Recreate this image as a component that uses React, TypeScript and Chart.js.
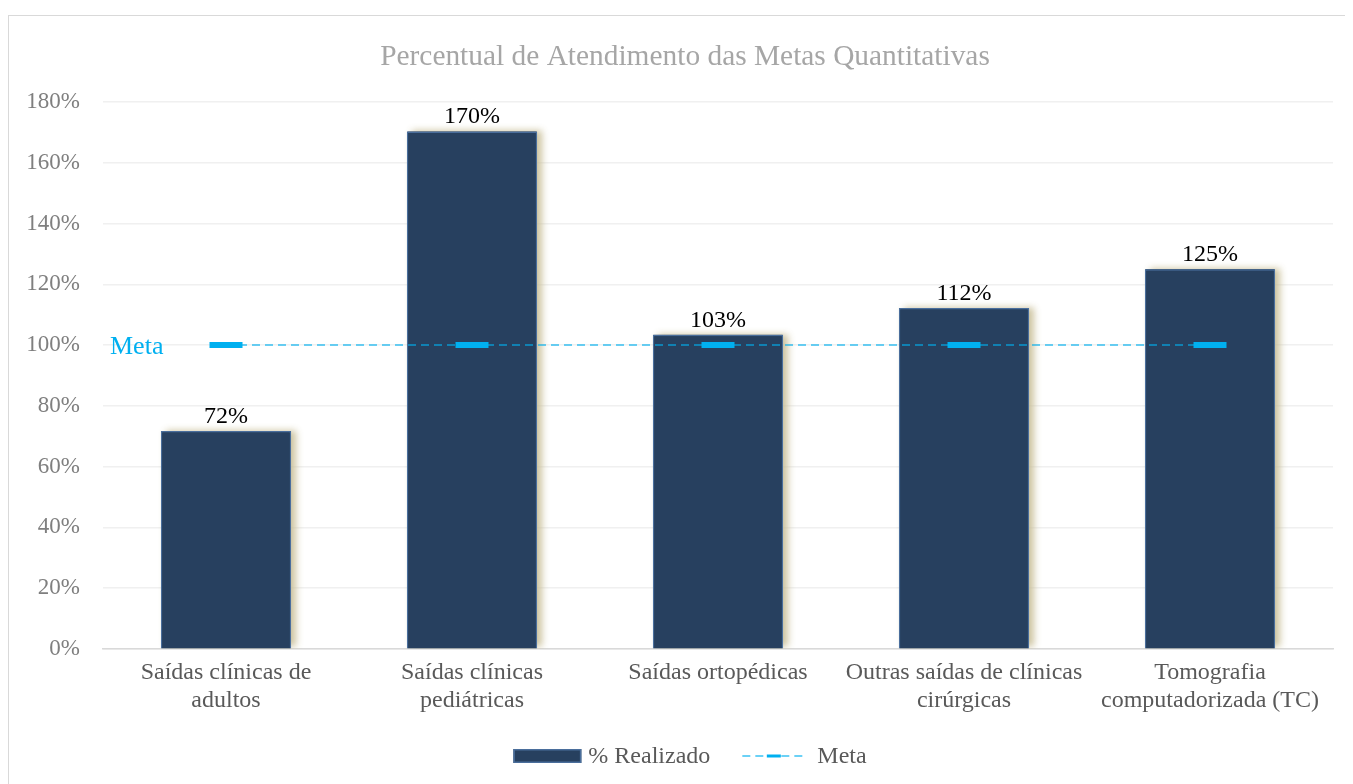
import React, { useEffect, useRef } from "react";
import { Chart, registerables } from "chart.js";

Chart.register(...registerables);

const chartTitle = "Percentual de Atendimento das Metas Quantitativas";
const categories: string[][] = [
  ["Saídas clínicas de", "adultos"],
  ["Saídas clínicas", "pediátricas"],
  ["Saídas ortopédicas"],
  ["Outras saídas de clínicas", "cirúrgicas"],
  ["Tomografia", "computadorizada (TC)"],
];
const realizado = [71.7, 170.3, 103.4, 112.2, 125.0];
const meta = [100, 100, 100, 100, 100];
const seriesNames = ["% Realizado", "Meta"];
const metaLabel = "Meta";
const yMin = 0;
const yMax = 180;
const yStep = 20;

const FONT = "'Liberation Serif', 'Times New Roman', serif";
const BAR_FILL = "#27405F";
const BAR_BORDER = "#4A6E9C";
const META_COLOR = "#00B0F0";
const META_LINE = "rgba(0,176,240,0.58)";

// Soft beige shadow behind bars (BarElement clips its own drawing, so the
// shadow is painted from the bar elements' geometry before the bars).
const shadowPlugin = {
  id: "barShadow",
  beforeDatasetDraw(chart: any, args: any) {
    if (args.index !== 0) return;
    const ctx = chart.ctx;
    const area = chart.chartArea;
    ctx.save();
    ctx.beginPath();
    ctx.rect(area.left, area.top - 20, area.right - area.left, area.bottom - area.top + 20);
    ctx.clip();
    ctx.shadowColor = "rgba(200,190,150,0.9)";
    ctx.shadowBlur = 7;
    ctx.shadowOffsetX = 5;
    ctx.shadowOffsetY = -1;
    ctx.fillStyle = BAR_FILL;
    args.meta.data.forEach((bar: any) => {
      const p = bar.getProps(["x", "y", "base", "width"], true);
      const left = p.x - p.width / 2;
      const top = Math.min(p.y, p.base);
      const h = Math.abs(p.base - p.y);
      ctx.fillRect(left + 0.5, top, p.width - 1, h);
    });
    ctx.restore();
  },
};

const titlePlugin = {
  id: "customTitle",
  afterDraw(chart: any) {
    const ctx = chart.ctx;
    ctx.save();
    ctx.font = `29.4px ${FONT}`;
    ctx.fillStyle = "#A6A6A6";
    ctx.textAlign = "center";
    ctx.textBaseline = "middle";
    ctx.fillText(chartTitle, chart.width / 2 + 1, 41);
    ctx.restore();
  },
};

const labelsPlugin = {
  id: "valueLabels",
  afterDatasetsDraw(chart: any) {
    const ctx = chart.ctx;
    const barMeta = chart.getDatasetMeta(0);
    ctx.save();
    ctx.font = `24px ${FONT}`;
    ctx.fillStyle = "#000000";
    ctx.textAlign = "center";
    ctx.textBaseline = "alphabetic";
    barMeta.data.forEach((bar: any, i: number) => {
      ctx.fillText(`${Math.round(realizado[i])}%`, bar.x, bar.y - 8);
    });
    const yScale = chart.scales.y;
    ctx.font = `26px ${FONT}`;
    ctx.fillStyle = META_COLOR;
    ctx.textAlign = "left";
    ctx.textBaseline = "middle";
    ctx.fillText(metaLabel, chart.chartArea.left + 7, yScale.getPixelForValue(meta[0]) + 2);
    ctx.restore();
  },
};

const legendPlugin = {
  id: "customLegend",
  afterDraw(chart: any) {
    const ctx = chart.ctx;
    ctx.save();
    ctx.font = `24px ${FONT}`;
    const w1 = ctx.measureText(seriesNames[0]).width;
    const w2 = ctx.measureText(seriesNames[1]).width;
    const boxW = 68;
    const lineW = 63;
    const total = boxW + 7 + w1 + 32 + lineW + 12 + w2;
    const cx = chart.width / 2 + 6;
    const cy = chart.chartArea.bottom + 107;
    let x = cx - total / 2;
    ctx.fillStyle = BAR_FILL;
    ctx.fillRect(x, cy - 7, boxW, 14);
    ctx.strokeStyle = BAR_BORDER;
    ctx.lineWidth = 1.5;
    ctx.strokeRect(x + 0.75, cy - 6.25, boxW - 1.5, 12.5);
    x += boxW + 7;
    ctx.fillStyle = "#595959";
    ctx.textAlign = "left";
    ctx.textBaseline = "middle";
    ctx.fillText(seriesNames[0], x, cy + 1);
    x += w1 + 32;
    ctx.strokeStyle = META_LINE;
    ctx.lineWidth = 2;
    ctx.setLineDash([8, 5]);
    ctx.beginPath();
    ctx.moveTo(x, cy);
    ctx.lineTo(x + lineW, cy);
    ctx.stroke();
    ctx.setLineDash([]);
    ctx.strokeStyle = META_COLOR;
    ctx.lineWidth = 3;
    ctx.beginPath();
    ctx.moveTo(x + lineW / 2 - 7, cy);
    ctx.lineTo(x + lineW / 2 + 7, cy);
    ctx.stroke();
    x += lineW + 12;
    ctx.fillStyle = "#595959";
    ctx.fillText(seriesNames[1], x, cy + 1);
    ctx.restore();
  },
};

export default function App() {
  const canvasRef = useRef<HTMLCanvasElement | null>(null);

  useEffect(() => {
    document.body.style.overflow = "hidden";
    const canvas = canvasRef.current;
    if (!canvas) return;
    Chart.defaults.font.family = FONT;
    const chart = new Chart(canvas, {
      type: "bar",
      data: {
        labels: categories,
        datasets: [
          {
            type: "bar",
            label: seriesNames[0],
            data: realizado,
            backgroundColor: BAR_FILL,
            borderColor: BAR_BORDER,
            borderWidth: 1.5,
            categoryPercentage: 1,
            barPercentage: 0.53,
            order: 1,
          },
          {
            type: "line",
            label: seriesNames[1],
            data: meta,
            borderColor: META_LINE,
            borderWidth: 2,
            borderDash: [8, 5],
            fill: false,
            pointStyle: "line",
            pointRadius: 16.5,
            pointBorderWidth: 6,
            pointBorderColor: META_COLOR,
            pointBackgroundColor: META_COLOR,
            order: 0,
          } as any,
        ],
      },
      options: {
        animation: false,
        responsive: true,
        maintainAspectRatio: false,
        events: [],
        layout: { padding: { left: 0, right: 26, top: 86, bottom: 67 } },
        plugins: {
          legend: { display: false },
          tooltip: { enabled: false },
          title: { display: false },
        },
        scales: {
          x: {
            grid: { display: false, drawTicks: false },
            border: { display: true, color: "#D9D9D9", width: 1.5 },
            ticks: {
              color: "#595959",
              font: { size: 24, family: FONT, lineHeight: 1.15 },
              padding: 10,
              maxRotation: 0,
              autoSkip: false,
            },
            afterFit(scale: any) {
              scale.height = 80;
            },
          },
          y: {
            min: yMin,
            max: yMax,
            grid: { color: "#F0F0F0", lineWidth: 1.5, drawTicks: false },
            border: { display: false },
            ticks: {
              stepSize: yStep,
              color: "#7F7F7F",
              font: { size: 23, family: FONT },
              padding: 23,
              callback: (v: any) => `${v}%`,
            },
            afterFit(scale: any) {
              scale.width = 94;
            },
          },
        },
      },
      plugins: [shadowPlugin, labelsPlugin, legendPlugin, titlePlugin],
    });
    return () => chart.destroy();
  }, []);

  return (
    <div
      style={{
        marginTop: 7,
        border: "1px solid #D9D9D9",
        width: 1350,
        height: 780,
        position: "relative",
        background: "#FFFFFF",
      }}
    >
      <canvas ref={canvasRef} />
    </div>
  );
}
